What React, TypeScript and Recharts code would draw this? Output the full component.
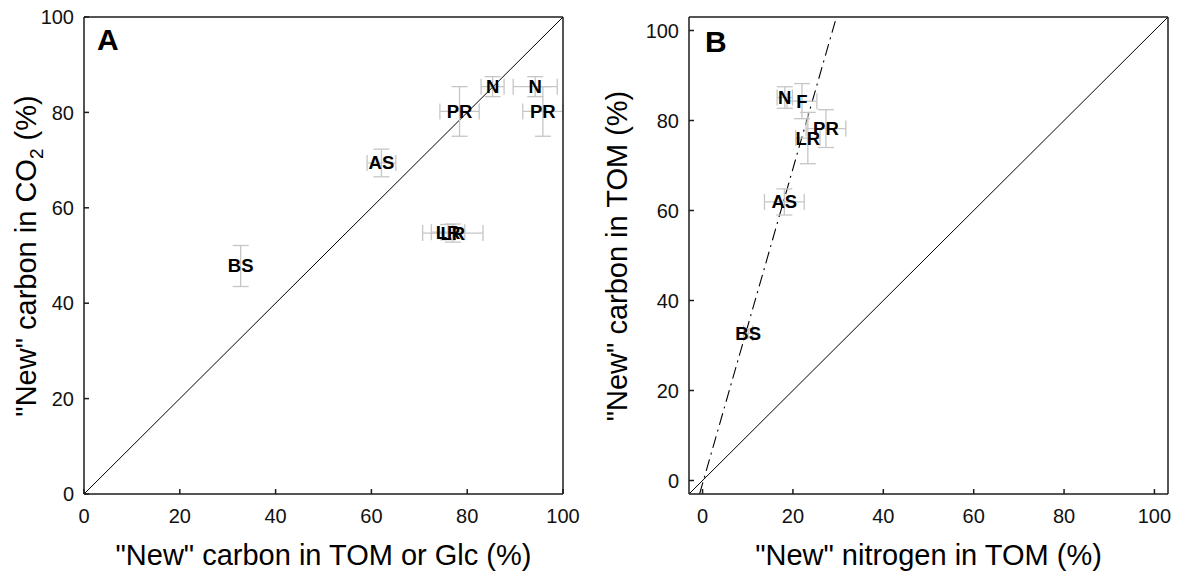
import React from "react";
import { ScatterChart, Scatter, XAxis, YAxis, ErrorBar, ReferenceLine } from "recharts";

const ticks = [0, 20, 40, 60, 80, 100];

// panel A: "new" carbon in TOM/Glc vs CO2
const aLabels = ["BS", "AS", "PR", "N", "N", "PR", "LR", "LR"];
const aX = [32.7, 62.1, 78.4, 85.3, 94.2, 95.8, 77.0, 76.0];
const aY = [47.8, 69.4, 80.2, 85.4, 85.4, 80.2, 54.7, 54.9];
const aXErr = [0, 3.0, 4.1, 2.4, 4.6, 4.2, 6.3, 3.5];
const aYErr = [4.3, 2.9, 5.2, 2.1, 2.1, 5.2, 1.9, 1.6];
const aDiag = [{ x: 0, y: 0 }, { x: 100, y: 100 }];

// panel B: "new" nitrogen vs carbon in TOM
const bLabels = ["N", "F", "PR", "LR", "AS", "BS"];
const bX = [18.2, 22.0, 27.3, 23.3, 18.1, 10.1];
const bY = [85.1, 84.3, 78.2, 76.1, 61.9, 32.7];
const bXErr = [1.7, 3.3, 4.4, 2.7, 4.4, 1.0];
const bYErr = [2.4, 3.9, 4.2, 5.7, 2.9, 1.0];
const bDiag = [{ x: -3, y: -3 }, { x: 103, y: 103 }];
const bFit = [{ x: -0.66, y: -3 }, { x: 29.63, y: 103 }];

const font = '"Liberation Sans", Arial, sans-serif';
const axisColor = "#1c1c1c";
const errColor = "#c6c6c6";

const build = (labels: string[], xs: number[], ys: number[], exs: number[], eys: number[]) =>
  labels.map((label, i) => ({ label, x: xs[i], y: ys[i], ex: exs[i], ey: eys[i] }));

const aData = build(aLabels, aX, aY, aXErr, aYErr);
const bData = build(bLabels, bX, bY, bXErr, bYErr);

const renderLabel = (props: any) => {
  const { cx, cy, payload } = props;
  if (cx == null || cy == null) return <g />;
  return (
    <text
      x={cx}
      y={cy}
      textAnchor="middle"
      dominantBaseline="central"
      fontFamily={font}
      fontWeight="bold"
      fontSize={18.5}
      fill="#000"
    >
      {payload.label}
    </text>
  );
};

interface PanelProps {
  data: ReturnType<typeof build>;
  domain: [number, number];
  width: number;
  margin: { top: number; right: number; bottom: number; left: number };
  diag: { x: number; y: number }[];
  fit?: { x: number; y: number }[];
}

function Panel({ data, domain, width, margin, diag, fit }: PanelProps) {
  const tickStyle = { fontSize: 20, fill: "#111", fontFamily: font };
  const lineStyle = { stroke: axisColor, strokeWidth: 1.5 };
  return (
    <ScatterChart width={width} height={579} margin={margin}>
      <XAxis
        type="number"
        dataKey="x"
        domain={domain}
        ticks={ticks}
        allowDataOverflow
        height={40}
        tickSize={-5}
        tickMargin={20}
        axisLine={lineStyle}
        tickLine={lineStyle}
        tick={tickStyle}
      />
      <XAxis
        xAxisId="top"
        orientation="top"
        type="number"
        domain={domain}
        ticks={ticks}
        allowDataOverflow
        height={1}
        tickSize={-5}
        tick={false}
        axisLine={lineStyle}
        tickLine={lineStyle}
      />
      <YAxis
        type="number"
        dataKey="y"
        domain={domain}
        ticks={ticks}
        allowDataOverflow
        width={60}
        tickSize={-5}
        tickMargin={15}
        axisLine={lineStyle}
        tickLine={lineStyle}
        tick={tickStyle}
      />
      <YAxis
        yAxisId="right"
        orientation="right"
        type="number"
        domain={domain}
        ticks={ticks}
        allowDataOverflow
        width={1}
        tickSize={-5}
        tick={false}
        axisLine={lineStyle}
        tickLine={lineStyle}
      />
      <ReferenceLine segment={diag} stroke="#000" strokeWidth={1} ifOverflow="visible" />
      {fit && (
        <ReferenceLine
          segment={fit}
          stroke="#000"
          strokeWidth={1.1}
          strokeDasharray="12 5 2 5"
          ifOverflow="visible"
        />
      )}
      <Scatter data={data} shape={renderLabel} isAnimationActive={false}>
        <ErrorBar dataKey="ex" direction="x" width={8} stroke={errColor} strokeWidth={1.3} isAnimationActive={false} />
        <ErrorBar dataKey="ey" direction="y" width={8} stroke={errColor} strokeWidth={1.3} isAnimationActive={false} />
      </Scatter>
    </ScatterChart>
  );
}

export default function App() {
  const titleFont = { fontFamily: font, fontSize: 29, fill: "#000" };
  return (
    <div style={{ position: "absolute", left: 0, top: 0, width: 1177, height: 579, background: "#fff" }}>
      <div style={{ position: "absolute", left: 0, top: 0 }}>
        <Panel
          data={aData}
          domain={[0, 100]}
          width={590}
          margin={{ top: 16, right: 26, bottom: 45, left: 24 }}
          diag={aDiag}
        />
      </div>
      <div style={{ position: "absolute", left: 600, top: 0 }}>
        <Panel
          data={bData}
          domain={[-3, 103]}
          width={577}
          margin={{ top: 16, right: 8, bottom: 45, left: 29 }}
          diag={bDiag}
          fit={bFit}
        />
      </div>
      <svg
        width={1177}
        height={579}
        style={{ position: "absolute", left: 0, top: 0, pointerEvents: "none" }}
      >
        <text x={97} y={50} fontFamily={font} fontWeight="bold" fontSize={30}>A</text>
        <text x={705} y={52} fontFamily={font} fontWeight="bold" fontSize={30}>B</text>
        <text x={323.5} y={565} textAnchor="middle" {...titleFont}>"New" carbon in TOM or Glc (%)</text>
        <text x={928.5} y={565} textAnchor="middle" {...titleFont}>"New" nitrogen in TOM (%)</text>
        <text x={36} y={256} textAnchor="middle" transform="rotate(-90 36 256)" {...titleFont}>
          "New" carbon in CO<tspan fontSize={19} dy={7}>2</tspan><tspan dy={-7}> (%)</tspan>
        </text>
        <text x={627} y={256} textAnchor="middle" transform="rotate(-90 627 256)" {...titleFont}>
          "New" carbon in TOM (%)
        </text>
      </svg>
    </div>
  );
}
